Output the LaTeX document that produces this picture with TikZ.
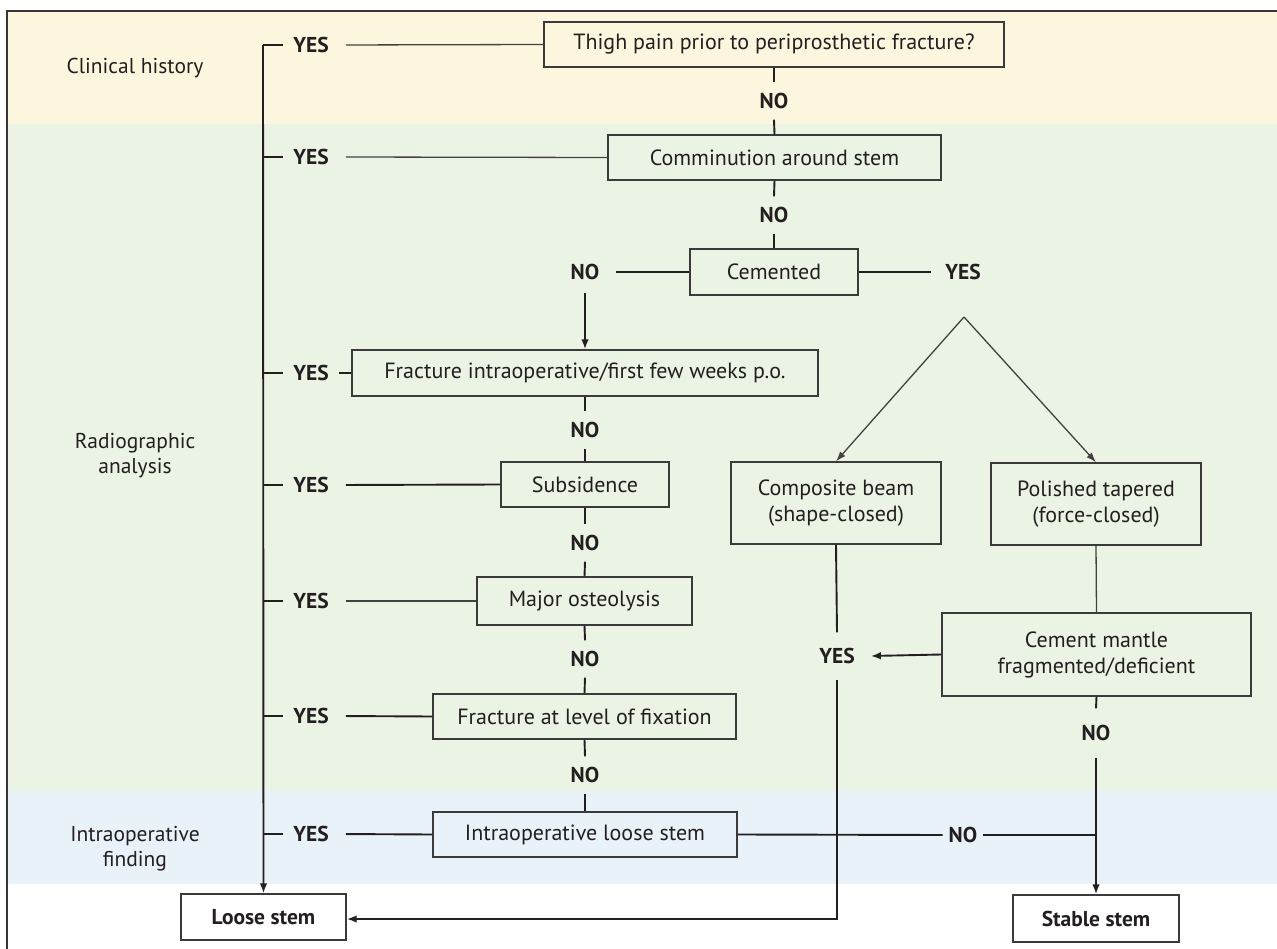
\documentclass[tikz,border=0pt]{standalone}
\usepackage{fontspec}
\setmainfont{PT Sans}
\usetikzlibrary{arrows.meta}
\definecolor{ink}{HTML}{231F20}
\definecolor{boxline}{HTML}{3A3A3A}
\definecolor{bandY}{HTML}{FDF6DF}
\definecolor{bandG}{HTML}{EBF3E5}
\definecolor{bandB}{HTML}{E9F1F9}
\tikzset{
  box/.style={draw=boxline, line width=1.3pt, inner sep=0pt, text=ink, align=center,
     font=\fontsize{22}{26}\selectfont},
  lab/.style={text=ink, font=\fontsize{21.5}{26}\selectfont\bfseries, inner xsep=10pt, inner ysep=11pt,
     text height=15pt, text depth=0pt},
  side/.style={text=ink, align=center, font=\fontsize{21.5}{25}\selectfont},
  thick1/.style={draw=ink, line width=1.9pt},
  thin1/.style={draw=ink!85, line width=1.3pt},
  arr/.style={-{Latex[length=10pt,width=7.5pt]}},
  arrthin/.style={-{Latex[length=10pt,width=7pt]}},
}
\begin{document}
\begin{tikzpicture}[x=1pt,y=-1pt]
\useasboundingbox (0,0) rectangle (1277,949);
% bands
\fill[white] (0,0) rectangle (1277,949);
\fill[bandY] (7,11) rectangle (1277,124);
\fill[bandG] (7,124) rectangle (1277,791);
\fill[bandB] (7,791) rectangle (1277,884);
\draw[draw=ink!90, line width=1.5pt] (7,949) -- (7,11) -- (1277,11);
% side labels
\node[side] (ch) at (135,68) {Clinical history};
\node[side] (ra) at (135,456) {Radiographic\\analysis};
\node[side] (if) at (135,849) {Intraoperative\\finding};
% boxes
\node[box, minimum width=460pt, minimum height=45pt] (thigh) at (774,44.5) {Thigh pain prior to periprosthetic fracture?};
\node[box, minimum width=333pt, minimum height=45pt] (comm) at (774.5,157.5) {Comminution around stem};
\node[box, minimum width=168pt, minimum height=46pt] (cem) at (774,272) {Cemented};
\node[box, minimum width=466pt, minimum height=46pt] (fiop) at (585,373) {Fracture intraoperative/first few weeks p.o.};
\node[box, minimum width=168pt, minimum height=45pt] (subs) at (585,484.5) {Subsidence};
\node[box, minimum width=215pt, minimum height=48pt] (osteo) at (584.5,601) {Major osteolysis};
\node[box, minimum width=303pt, minimum height=45pt] (fixa) at (584.5,716.5) {Fracture at level of fixation};
\node[box, minimum width=304pt, minimum height=45pt] (iols) at (585,834.5) {Intraoperative loose stem};
\node[box, minimum width=210pt, minimum height=82pt] (comp) at (836,503) {Composite beam\\(shape-closed)};
\node[box, minimum width=210pt, minimum height=82pt] (pol) at (1096,504) {Polished tapered\\(force-closed)};
\node[box, minimum width=309pt, minimum height=83pt] (mantle) at (1096.5,654.5) {Cement mantle\\fragmented/deficient};
\node[box, fill=white, minimum width=165pt, minimum height=46pt, font=\fontsize{21.5}{26}\selectfont\bfseries] (loose) at (263.5,917) {Loose stem};
\node[box, fill=white, minimum width=166pt, minimum height=47pt, font=\fontsize{21.5}{26}\selectfont\bfseries] (stable) at (1096,918.5) {Stable stem};
% YES labels on the left
\node[lab] (y1) at (311,45) {YES};
\node[lab] (y2) at (311,157) {YES};
\node[lab] (y3) at (311,373) {YES};
\node[lab] (y4) at (311,485) {YES};
\node[lab] (y5) at (311,601) {YES};
\node[lab] (y6) at (311,716) {YES};
\node[lab] (y7) at (311,834) {YES};
% NO labels
\node[lab] (n1) at (774,101) {NO};
\node[lab] (n2) at (774,215) {NO};
\node[lab, inner xsep=17pt, inner ysep=13pt] (nL) at (585,272) {NO};
\node[lab, inner xsep=14pt] (yR) at (963,272) {YES};
\node[lab] (n3) at (585,430) {NO};
\node[lab] (n4) at (585,543) {NO};
\node[lab] (n5) at (585,659) {NO};
\node[lab] (n6) at (585,775) {NO};
\node[lab, inner xsep=16pt, inner ysep=16pt] (yM) at (837,656) {YES};
\node[lab, inner ysep=17pt] (nM) at (1096,733) {NO};
\node[lab, inner xsep=6pt] (nB) at (963,835) {NO};
% left collector bar
\coordinate (bartop) at (263,45);
\draw[thick1, arr] (bartop) -- (loose.north);
\foreach \y in {y1,y2,y3,y4,y5,y6,y7}{
  \draw[thick1] (\y.west) -- (\y.west -| bartop);
}
\draw[thin1, shorten <=7pt] (y1.east) -- (thigh.west);
\draw[thin1, shorten <=7pt] (y2.east) -- (comm.west);
\draw[thick1] (y3.east) -- (fiop.west);
\draw[thick1, shorten <=7pt] (y4.east) -- (subs.west);
\draw[thin1, shorten <=7pt] (y5.east) -- (osteo.west);
\draw[thick1, shorten <=7pt] (y6.east) -- (fixa.west);
\draw[thick1, shorten <=7pt] (y7.east) -- (iols.west);
% NO chain
\draw[thick1] (thigh.south) -- (n1.north);
\draw[thick1] (n1.south) -- (comm.north);
\draw[thick1] (comm.south) -- (n2.north);
\draw[thick1] (n2.south) -- (cem.north);
\draw[thick1] (cem.west) -- (nL.east);
\draw[thick1] (cem.east) -- (yR.west);
\draw[thick1, arr] (nL.south) -- (fiop.north);
\draw[thick1] (fiop.south) -- (n3.north);
\draw[thick1] (n3.south) -- (subs.north);
\draw[thick1] (subs.south) -- (n4.north);
\draw[thick1] (n4.south) -- (osteo.north);
\draw[thick1] (osteo.south) -- (n5.north);
\draw[thick1] (n5.south) -- (fixa.north);
\draw[thick1] (fixa.south) -- (n6.north);
\draw[thick1] (n6.south) -- (iols.north);
% cemented split
\coordinate (apex) at (964,317);
\draw[thin1, arrthin] (apex) -- (comp.north);
\draw[thin1, arrthin] (apex) -- (pol.north);
\draw[thin1] (pol.south) -- (mantle.north);
\draw[thick1, arr] (mantle.west) -- (yM.east);
\draw[thick1] (comp.south) -- (yM.north);
\coordinate (cornerL) at (yM.south |- 0,919);
\draw[thick1, arr] (yM.south) -- (cornerL) -- (cornerL -| loose.east);
\draw[thick1] (mantle.south) -- (nM.north);
\draw[thick1, arr] (nM.south) -- (stable.north);
\draw[thick1] (iols.east) -- (nB.west);
\draw[thick1] (nB.east) -- (nB.east -| stable.north);
\end{tikzpicture}
\end{document}
